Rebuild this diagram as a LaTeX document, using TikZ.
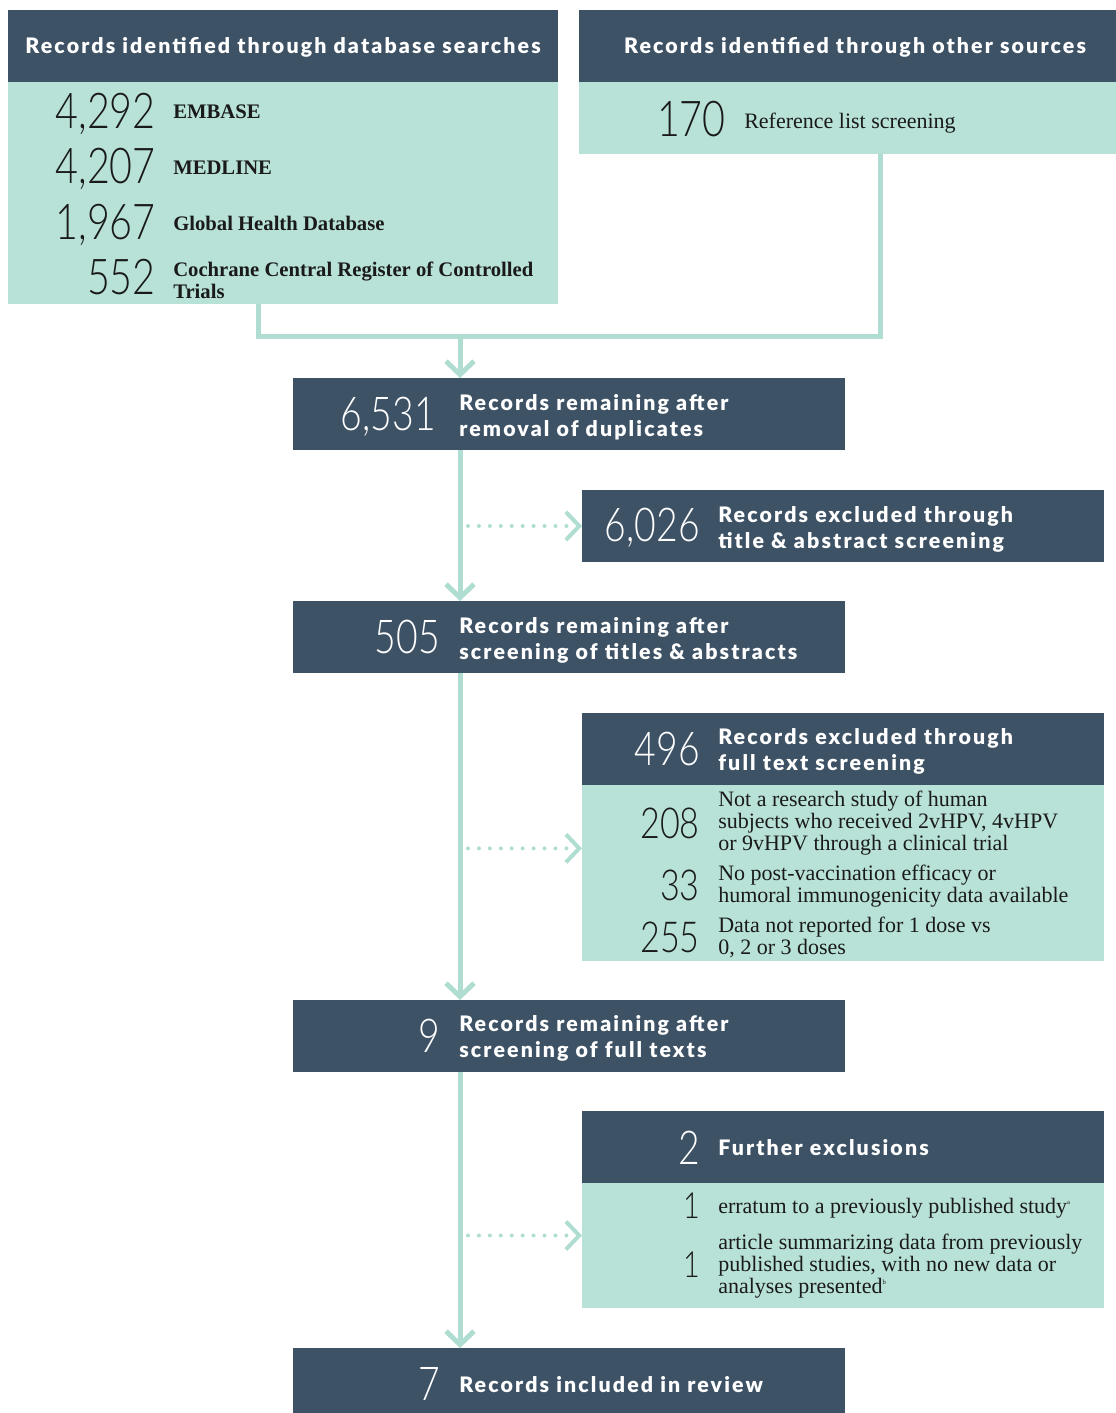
\documentclass[tikz,border=0pt]{standalone}
\usepackage{fontspec}
\setmainfont{Liberation Serif}
\newfontfamily\headfont[LetterSpace=10]{Lato Black}
\newfontfamily\numfont[FakeStretch=0.8]{Lato Light}
\usetikzlibrary{arrows.meta,positioning,calc}
\definecolor{prismadark}{RGB}{62,82,102}
\definecolor{prismateal}{RGB}{184,226,215}
\definecolor{prismaline}{RGB}{176,221,209}
\definecolor{prismaink}{RGB}{26,26,26}

\begin{document}
\begin{tikzpicture}[x=0.75pt, y=-0.75pt,
  hdr/.style={fill=prismadark, inner sep=0pt, outer sep=0pt, anchor=north west},
  pane/.style={fill=prismateal, inner sep=0pt, outer sep=0pt, anchor=north west},
  headtxt/.style={inner sep=0pt, text=white, align=left,
                  font=\headfont\fontsize{16}{19.5}\selectfont},
  bignum/.style={anchor=base east, inner sep=0pt, text=prismaink,
                 font=\numfont\fontsize{37}{37}\selectfont},
  hdrnum/.style={bignum, text=white, font=\numfont\fontsize{35}{35}\selectfont},
  smallnum/.style={bignum, font=\numfont\fontsize{32}{32}\selectfont},
  itemtxt/.style={anchor=base west, inner sep=0pt, text=prismaink, align=left,
                  font=\fontsize{16.5}{16.5}\selectfont},
  dbtxt/.style={itemtxt, font=\bfseries\fontsize{15.5}{16.5}\selectfont},
  flow/.style={draw=prismaline, line width=3.75pt},
  tip/.style={-{Straight Barb[length=10pt,width=21pt]}},
  dots/.style={draw=prismaline, line width=3pt, line cap=round,
               dash pattern=on 0pt off 8.2pt}
]
\useasboundingbox (0,0) rectangle (1116,1413);

% sources
\node[hdr, minimum width=412.5pt, minimum height=54pt] (dbhead) at (8,10) {};
\node[pane, minimum width=412.5pt, minimum height=166.5pt] (dbbody) at (8,82) {};
\node[hdr, minimum width=402.75pt, minimum height=54pt] (othhead) at (579,10) {};
\node[pane, minimum width=402.75pt, minimum height=54pt] (othbody) at (579,82) {};

\node[headtxt, anchor=base] (dbtitle) at (283,54) {Records identified through database searches};
\node[headtxt, anchor=base] (othtitle) at (855,54) {Records identified through other sources};

\node[bignum] (nembase) at (156,128) {4,292};
\node[dbtxt] (tembase) at (173,118) {EMBASE};
\node[bignum] (nmedline) at (156,183) {4,207};
\node[dbtxt] (tmedline) at (173,174) {MEDLINE};
\node[bignum] (nglobal) at (156,239) {1,967};
\node[dbtxt] (tglobal) at (173,230) {Global Health Database};
\node[bignum] (ncochrane) at (156,294) {552};
\node[dbtxt] (tcochrane) at (173,298) {Cochrane Central Register of Controlled\\Trials};
\node[bignum] (nref) at (726,137) {170};
\node[itemtxt] (tref) at (744,128) {Reference list screening};

% main column
\node[hdr, minimum width=414pt, minimum height=54pt] (dedup) at (293,378) {};
\node[hdrnum] (ndedup) at (436,430) {6,531};
\node[headtxt, anchor=base west] (tdedup) at (459,436) {Records remaining after\\removal of duplicates};

\node[hdr, minimum width=414pt, minimum height=54pt] (abstr) at (293,601) {};
\node[hdrnum] (nabstr) at (440,653) {505};
\node[headtxt, anchor=base west] (tabstr) at (459,659) {Records remaining after\\screening of titles \& abstracts};

\node[hdr, minimum width=414pt, minimum height=54pt] (fulltxt) at (293,1000) {};
\node[hdrnum] (nfulltxt) at (440,1052) {9};
\node[headtxt, anchor=base west] (tfulltxt) at (459,1057) {Records remaining after\\screening of full texts};

\node[hdr, minimum width=414pt, minimum height=48.75pt] (incl) at (293,1348) {};
\node[hdrnum] (nincl) at (440,1400) {7};
\node[headtxt, anchor=base west] (tincl) at (459,1392) {Records included in review};

% exclusions
\node[hdr, minimum width=391.5pt, minimum height=54pt] (exabs) at (582,490) {};
\node[hdrnum] (nexabs) at (700,541) {6,026};
\node[headtxt, anchor=base west] (texabs) at (718,548) {Records excluded through\\title \& abstract screening};

\node[hdr, minimum width=391.5pt, minimum height=54pt] (exfullhead) at (582,713) {};
\node[pane, minimum width=391.5pt, minimum height=132pt] (exfullbody) at (582,785) {};
\node[hdrnum] (nexfull) at (700,765) {496};
\node[headtxt, anchor=base west] (texfull) at (718,770) {Records excluded through\\full text screening};
\node[smallnum] (nhuman) at (700,838) {208};
\node[itemtxt] (thuman) at (718,850) {Not a research study of human\\subjects who received 2vHPV, 4vHPV\\or 9vHPV through a clinical trial};
\node[smallnum] (nefficacy) at (700,900) {33};
\node[itemtxt] (tefficacy) at (718,902) {No post-vaccination efficacy or\\humoral immunogenicity data available};
\node[smallnum] (ndose) at (700,952) {255};
\node[itemtxt] (tdose) at (718,954) {Data not reported for 1 dose vs\\0, 2 or 3 doses};

\node[hdr, minimum width=391.5pt, minimum height=54pt] (furthhead) at (582,1111) {};
\node[pane, minimum width=391.5pt, minimum height=93.75pt] (furthbody) at (582,1183) {};
\node[hdrnum] (nfurth) at (700,1164) {2};
\node[headtxt, anchor=base west] (tfurth) at (718,1155) {Further exclusions};
\node[smallnum, font=\numfont\fontsize{27}{27}\selectfont] (nerratum) at (700,1218) {1};
\node[itemtxt] (terratum) at (718,1213) {erratum to a previously published study\textsuperscript{\tiny a}};
\node[smallnum, font=\numfont\fontsize{27}{27}\selectfont] (nsummary) at (700,1277) {1};
\node[itemtxt] (tsummary) at (718,1293) {article summarizing data from previously\\published studies, with no new data or\\analyses presented\textsuperscript{\tiny b}};

% connectors
\coordinate (lft) at (258,336);
\coordinate (rgt) at (880,336);
\coordinate (merge) at (460,336);
\coordinate (spine) at (460,0);
\coordinate (fullin) at ($(exfullbody.north west)!.36!(exfullbody.south west)$);
\coordinate (furthin) at ($(furthbody.north west)!.42!(furthbody.south west)$);
\draw[flow] (dbbody.south -| lft) -- (lft) -- (rgt) -- (othbody.south -| rgt);
\draw[flow, tip] (merge) -- (dedup.north -| merge);
\draw[flow, tip] (dedup.south -| spine) -- (abstr.north -| spine);
\draw[flow, tip] (abstr.south -| spine) -- (fulltxt.north -| spine);
\draw[flow, tip] (fulltxt.south -| spine) -- (incl.north -| spine);
\draw[dots, tip] ([xshift=6pt]exabs.west -| spine) -- (exabs.west);
\draw[dots, tip] ([xshift=6pt]fullin -| spine) -- (fullin);
\draw[dots, tip] ([xshift=6pt]furthin -| spine) -- (furthin);
\end{tikzpicture}
\end{document}
